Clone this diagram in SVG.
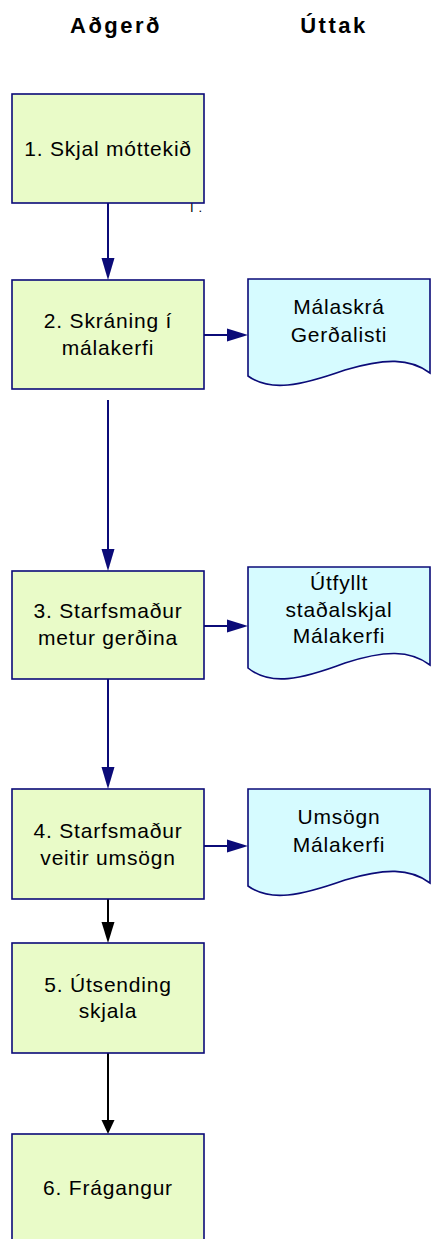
<svg xmlns="http://www.w3.org/2000/svg" width="431" height="1239" viewBox="0 0 431 1239">
<style>
.hdr{font-family:"Liberation Sans",Arial,sans-serif;font-weight:bold;font-size:22px;letter-spacing:2.5px;fill:#000;text-anchor:middle}
.t{font-family:"Liberation Sans",Arial,sans-serif;font-size:21px;letter-spacing:0.8px;fill:#000;text-anchor:middle}
.box{fill:#e9fbc8;stroke:#0b0b78;stroke-width:1.6}
.doc{fill:#d6fbff;stroke:#0b0b78;stroke-width:1.6}
.cn{stroke:#0b0b78;stroke-width:2;fill:none}
.ck{stroke:#000;stroke-width:2;fill:none}
</style>
<rect width="431" height="1239" fill="#fff"/>
<text class="hdr" x="116" y="33">Aðgerð</text>
<text class="hdr" x="334" y="33">Úttak</text>

<g id="connectors">
<line class="cn" x1="108" y1="203" x2="108" y2="262"/>
<polygon points="101.5,258 114.5,258 108,280" fill="#0b0b78"/>
<line class="cn" x1="204" y1="335" x2="230" y2="335"/>
<polygon points="227,328.5 227,341.5 248,335" fill="#0b0b78"/>
<line class="cn" x1="108" y1="400" x2="108" y2="553"/>
<polygon points="101.5,549 114.5,549 108,571" fill="#0b0b78"/>
<line class="cn" x1="204" y1="626" x2="230" y2="626"/>
<polygon points="227,619.5 227,632.5 248,626" fill="#0b0b78"/>
<line class="cn" x1="108" y1="679" x2="108" y2="771"/>
<polygon points="101.5,767 114.5,767 108,789" fill="#0b0b78"/>
<line class="cn" x1="204" y1="846" x2="230" y2="846"/>
<polygon points="227,839.5 227,852.5 248,846" fill="#0b0b78"/>
<line class="ck" x1="108" y1="899" x2="108" y2="926"/>
<polygon points="101.5,922 114.5,922 108,943" fill="#000"/>
<line class="ck" x1="108" y1="1053" x2="108" y2="1124"/>
<polygon points="101.5,1120 114.5,1120 108,1134" fill="#000"/>
</g>

<text x="190" y="212" font-family="Liberation Sans,Arial,sans-serif" font-size="13" letter-spacing="5" fill="#000">I.</text>
<g id="n1">
<rect class="box" x="12" y="94" width="192" height="109"/>
<text class="t" x="108" y="156">1. Skjal móttekið</text>
</g>

<g id="n2">
<rect class="box" x="12" y="280" width="192" height="109"/>
<text class="t" x="108" y="328">2. Skráning í</text>
<text class="t" x="108" y="355">málakerfi</text>
</g>
<g id="d2">
<path class="doc" d="M248,279 H430 V373 C410,358 385,358 345,370 C300,386 270,392 248,376 Z"/>
<text class="t" x="339" y="314">Málaskrá</text>
<text class="t" x="339" y="342">Gerðalisti</text>
</g>

<g id="n3">
<rect class="box" x="12" y="571" width="192" height="108"/>
<text class="t" x="108" y="618">3. Starfsmaður</text>
<text class="t" x="108" y="645">metur gerðina</text>
</g>
<g id="d3">
<path class="doc" d="M248,567 H430 V665 C410,650 385,650 345,663 C300,680 270,686 248,668 Z"/>
<text class="t" x="339" y="590">Útfyllt</text>
<text class="t" x="339" y="617">staðalskjal</text>
<text class="t" x="339" y="643">Málakerfi</text>
</g>

<g id="n4">
<rect class="box" x="12" y="789" width="192" height="110"/>
<text class="t" x="108" y="838">4. Starfsmaður</text>
<text class="t" x="108" y="865">veitir umsögn</text>
</g>
<g id="d4">
<path class="doc" d="M248,789 H430 V883 C410,868 385,868 345,880 C300,896 270,902 248,886 Z"/>
<text class="t" x="339" y="824">Umsögn</text>
<text class="t" x="339" y="852">Málakerfi</text>
</g>

<g id="n5">
<rect class="box" x="12" y="943" width="192" height="110"/>
<text class="t" x="108" y="992">5. Útsending</text>
<text class="t" x="108" y="1018">skjala</text>
</g>

<g id="n6">
<rect class="box" x="12" y="1134" width="192" height="112"/>
<text class="t" x="108" y="1195">6. Frágangur</text>
</g>
</svg>
